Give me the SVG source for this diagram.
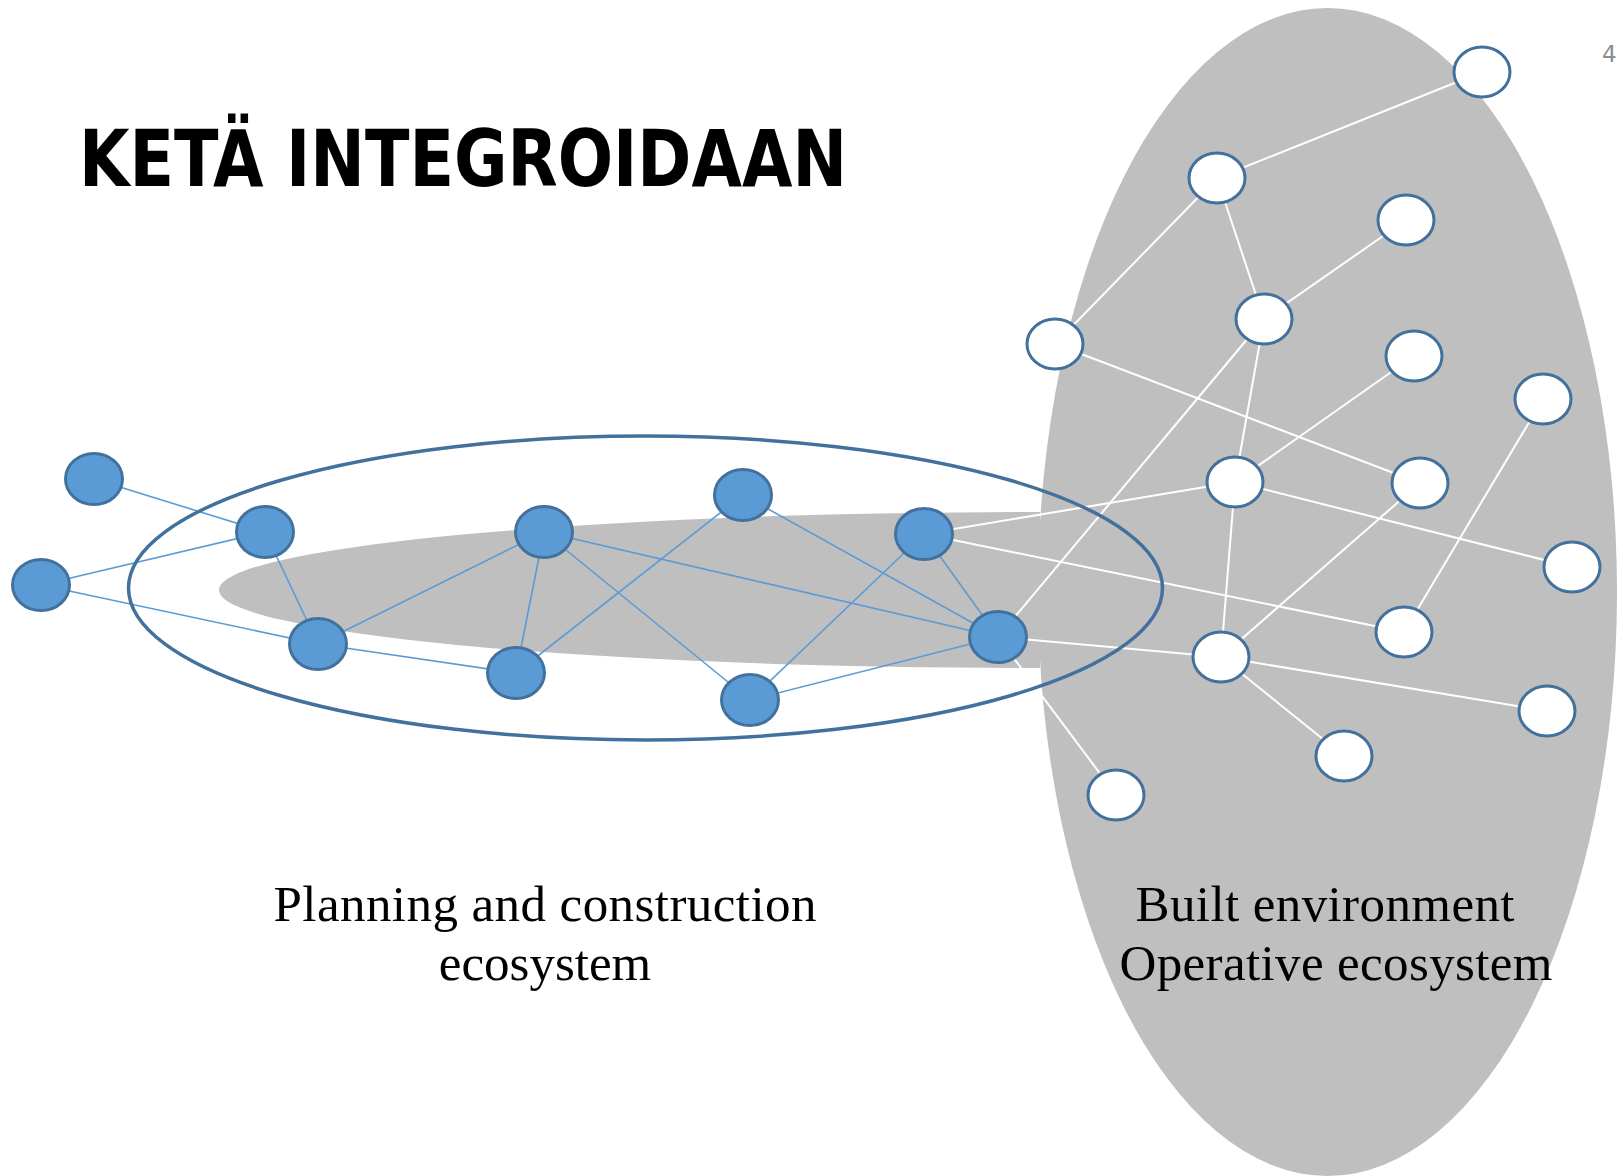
<svg xmlns="http://www.w3.org/2000/svg" width="1623" height="1176" viewBox="0 0 1623 1176">
<style>
.bn{fill:#5b9bd5;stroke:#41719c;stroke-width:3}
.wn{fill:#ffffff;stroke:#41719c;stroke-width:3}
.be{stroke:#5b9bd5;stroke-width:1.6;fill:none}
.we{stroke:#ffffff;stroke-width:2;fill:none}
.lbl{font-family:"Liberation Serif","Times New Roman",serif;font-size:51px;fill:#000;text-anchor:middle}
</style>
<rect width="1623" height="1176" fill="#ffffff"/>
<g id="background">
<ellipse id="operative-area" cx="1327.5" cy="592" rx="289.5" ry="584" fill="#bfbfbf"/>
<path id="planning-band" d="M 219 590 A 821 78 0 0 1 1040 512 L 1040 668 A 821 78 0 0 1 219 590 Z" fill="#bfbfbf"/>
</g>
<text id="title" x="79" y="186" font-family="DejaVu Sans Condensed,DejaVu Sans,sans-serif" font-weight="bold" font-size="79" textLength="768" lengthAdjust="spacingAndGlyphs" fill="#000">KETÄ INTEGROIDAAN</text>
<text id="page-number" x="1602" y="62" font-family="DejaVu Sans,sans-serif" font-size="23" fill="#8c8c8c">4</text>
<g id="connectors">
<line class="be" x1="94" y1="479" x2="265" y2="532"/>
<line class="be" x1="41" y1="585" x2="265" y2="532"/>
<line class="be" x1="41" y1="585" x2="318" y2="644"/>
<line class="be" x1="265" y1="532" x2="318" y2="644"/>
<line class="be" x1="318" y1="644" x2="544" y2="532"/>
<line class="be" x1="318" y1="644" x2="516" y2="673"/>
<line class="be" x1="544" y1="532" x2="516" y2="673"/>
<line class="be" x1="544" y1="532" x2="998" y2="637"/>
<line class="be" x1="544" y1="532" x2="750" y2="700"/>
<line class="be" x1="516" y1="673" x2="743" y2="495"/>
<line class="be" x1="743" y1="495" x2="998" y2="637"/>
<line class="be" x1="924" y1="534" x2="750" y2="700"/>
<line class="be" x1="924" y1="534" x2="998" y2="637"/>
<line class="be" x1="750" y1="700" x2="998" y2="637"/>
<line class="we" x1="1482" y1="72" x2="1217" y2="178"/>
<line class="we" x1="1217" y1="178" x2="1055" y2="344"/>
<line class="we" x1="1217" y1="178" x2="1264" y2="319"/>
<line class="we" x1="1406" y1="220" x2="1264" y2="319"/>
<line class="we" x1="1264" y1="319" x2="1235" y2="482"/>
<line class="we" x1="1264" y1="319" x2="998" y2="637"/>
<line class="we" x1="1055" y1="344" x2="1420" y2="483"/>
<line class="we" x1="1055" y1="344" x2="924" y2="534"/>
<line class="we" x1="1414" y1="356" x2="1235" y2="482"/>
<line class="we" x1="1543" y1="399" x2="1404" y2="632"/>
<line class="we" x1="924" y1="534" x2="1235" y2="482"/>
<line class="we" x1="1235" y1="482" x2="1572" y2="567"/>
<line class="we" x1="1235" y1="482" x2="1221" y2="657"/>
<line class="we" x1="1420" y1="483" x2="1221" y2="657"/>
<line class="we" x1="924" y1="534" x2="1404" y2="632"/>
<line class="we" x1="998" y1="637" x2="1221" y2="657"/>
<line class="we" x1="1221" y1="657" x2="1547" y2="711"/>
<line class="we" x1="1221" y1="657" x2="1344" y2="756"/>
<line class="we" x1="998" y1="637" x2="1116" y2="795"/>
</g>
<ellipse id="planning-outline" cx="645.5" cy="588" rx="517" ry="152" fill="none" stroke="#41719c" stroke-width="3.5"/>
<g id="p1"><ellipse class="bn" cx="94" cy="479" rx="28.5" ry="25.5"/></g>
<g id="p2"><ellipse class="bn" cx="41" cy="585" rx="28.5" ry="25.5"/></g>
<g id="p3"><ellipse class="bn" cx="265" cy="532" rx="28.5" ry="25.5"/></g>
<g id="p4"><ellipse class="bn" cx="318" cy="644" rx="28.5" ry="25.5"/></g>
<g id="p5"><ellipse class="bn" cx="544" cy="532" rx="28.5" ry="25.5"/></g>
<g id="p6"><ellipse class="bn" cx="516" cy="673" rx="28.5" ry="25.5"/></g>
<g id="p7"><ellipse class="bn" cx="743" cy="495" rx="28.5" ry="25.5"/></g>
<g id="p8"><ellipse class="bn" cx="924" cy="534" rx="28.5" ry="25.5"/></g>
<g id="p9"><ellipse class="bn" cx="998" cy="637" rx="28.5" ry="25.5"/></g>
<g id="p10"><ellipse class="bn" cx="750" cy="700" rx="28.5" ry="25.5"/></g>
<g id="o1"><ellipse class="wn" cx="1482" cy="72" rx="28" ry="25"/></g>
<g id="o2"><ellipse class="wn" cx="1217" cy="178" rx="28" ry="25"/></g>
<g id="o3"><ellipse class="wn" cx="1406" cy="220" rx="28" ry="25"/></g>
<g id="o4"><ellipse class="wn" cx="1264" cy="319" rx="28" ry="25"/></g>
<g id="o5"><ellipse class="wn" cx="1055" cy="344" rx="28" ry="25"/></g>
<g id="o6"><ellipse class="wn" cx="1414" cy="356" rx="28" ry="25"/></g>
<g id="o7"><ellipse class="wn" cx="1543" cy="399" rx="28" ry="25"/></g>
<g id="o8"><ellipse class="wn" cx="1235" cy="482" rx="28" ry="25"/></g>
<g id="o9"><ellipse class="wn" cx="1420" cy="483" rx="28" ry="25"/></g>
<g id="o10"><ellipse class="wn" cx="1572" cy="567" rx="28" ry="25"/></g>
<g id="o11"><ellipse class="wn" cx="1404" cy="632" rx="28" ry="25"/></g>
<g id="o12"><ellipse class="wn" cx="1221" cy="657" rx="28" ry="25"/></g>
<g id="o13"><ellipse class="wn" cx="1547" cy="711" rx="28" ry="25"/></g>
<g id="o14"><ellipse class="wn" cx="1344" cy="756" rx="28" ry="25"/></g>
<g id="o15"><ellipse class="wn" cx="1116" cy="795" rx="28" ry="25"/></g>
<g id="labels">
<text class="lbl" x="545" y="921" textLength="543" lengthAdjust="spacing">Planning and construction</text>
<text class="lbl" x="545" y="980">ecosystem</text>
<text class="lbl" x="1325" y="921" textLength="379" lengthAdjust="spacing">Built environment</text>
<text class="lbl" x="1336" y="980" textLength="433" lengthAdjust="spacing">Operative ecosystem</text>
</g>
</svg>
